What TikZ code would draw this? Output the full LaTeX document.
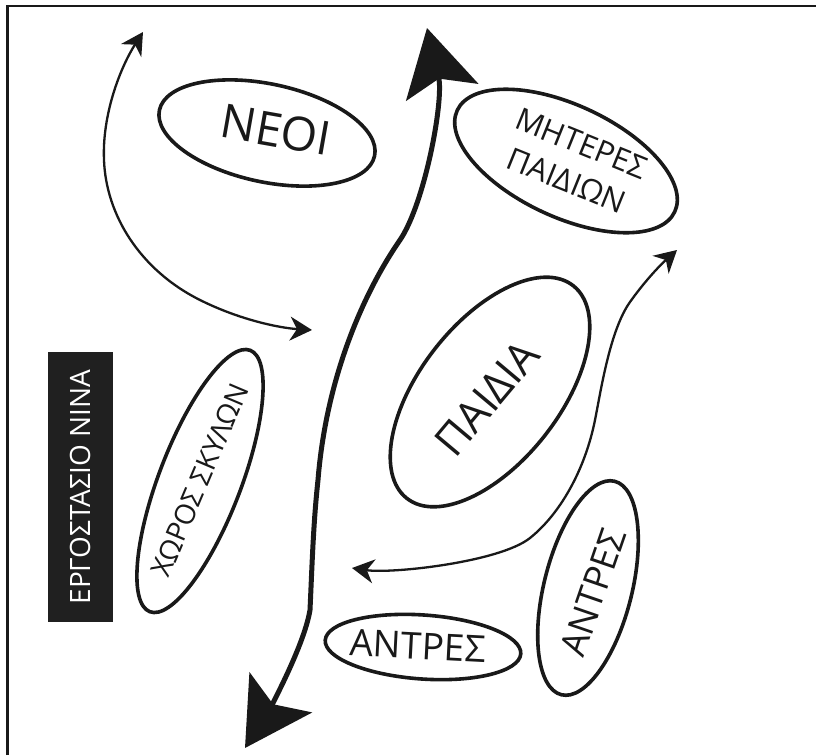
\documentclass[tikz,border=0pt]{standalone}
\usepackage{fontspec}
\setmainfont{Open Sans}
\usetikzlibrary{arrows.meta,shapes.geometric}
\definecolor{ink}{RGB}{25,25,25}
\definecolor{boxblack}{RGB}{32,32,32}
\begin{document}
\begin{tikzpicture}[x=1pt,y=-1pt,
  blob/.style={draw=ink, line width=3.6pt, ellipse, inner sep=0pt},
  lbl/.style={text=ink, inner sep=0pt, align=center},
  smallarrow/.style={draw=ink, line width=2.3pt,
    {Stealth[length=22pt,width=24pt,inset=7pt]}-{Stealth[length=22pt,width=24pt,inset=7pt]}},
  bigarrow/.style={draw=ink, line width=5pt,
    {Stealth[length=66pt,width=74pt,inset=14pt]}-{Stealth[length=66pt,width=74pt,inset=14pt]}},
]
\useasboundingbox (0,0) rectangle (816,755);
\fill[white] (0,0) rectangle (816,755);
% frame (top and left edges only)
\coordinate (fbl) at (7.5,755);
\coordinate (ftl) at (7.5,6);
\coordinate (ftr) at (816,6);
\draw[line width=2.8pt, ink] (fbl) -- (ftl) -- (ftr);

% title box
\node[fill=boxblack, text=white, rotate=90, minimum width=270pt, minimum height=65pt,
      inner sep=0pt, font=\fontsize{28}{28}\selectfont] (ergo) at (80.5,487) {ΕΡΓΟΣΤΑΣΙΟ ΝΙΝΑ};

% ellipses
\node[blob, minimum width=220pt, minimum height=98pt, rotate=-12] (neoiE) at (267,133) {};
\node[lbl, font=\fontsize{47}{47}\selectfont, rotate=-10] (neoi) at (276,130) {ΝΕΟΙ};

\node[blob, minimum width=240pt, minimum height=112pt, rotate=-25] (mitE) at (566,161) {};
\node[lbl, font=\fontsize{31}{40}\selectfont, rotate=-22] (mit) at (574,162) {ΜΗΤΕΡΕΣ\\ΠΑΙΔΙΩΝ};

\node[blob, minimum width=270pt, minimum height=140pt, rotate=52] (paiE) at (490,392) {};
\node[lbl, font=\fontsize{43}{43}\selectfont, rotate=50] (pai) at (487,398) {ΠΑΙΔΙΑ};

\node[blob, minimum width=280pt, minimum height=82pt, rotate=69] (xorE) at (200,481) {};
\node[lbl, font=\fontsize{28}{28}\selectfont, rotate=67] (xor) at (200,480) {ΧΩΡΟΣ ΣΚΥΛΩΝ};

\node[blob, minimum width=220pt, minimum height=88pt, rotate=76] (antvE) at (588,588) {};
\node[lbl, font=\fontsize{36}{36}\selectfont, rotate=71] (antv) at (593,592) {ΑΝΤΡΕΣ};

\node[blob, minimum width=196pt, minimum height=64pt, rotate=-4] (anthE) at (423,647) {};
\node[lbl, font=\fontsize{37}{37}\selectfont, rotate=-3] (anth) at (418,646) {ΑΝΤΡΕΣ};

% big two-headed arrow
\coordinate (bigbot) at (245,748);
\coordinate (bigtop) at (427,28);
\draw[bigarrow] (bigbot) .. controls (263,720) and (303.5,649.5) .. (310,610)
  .. controls (312,567) and (313.3,522.5) .. (318,480)
  .. controls (326,380) and (362,295) .. (400,240)
  .. controls (425,203) and (444,100) .. (bigtop);

% left thin arrow
\coordinate (nTop) at (143,32);
\coordinate (nEnd) at (312,330);
\draw[smallarrow] (nTop) .. controls (120,68) and (102,115) .. (104,160)
  .. controls (106,215) and (140,270) .. (200,300)
  .. controls (240,320) and (280,328) .. (nEnd);

% right thin arrow
\coordinate (aL) at (352,568);
\coordinate (aR) at (677,250);
\draw[smallarrow] (aL) .. controls (392,574) and (500,562) .. (530,538)
  .. controls (560,514) and (585,470) .. (595,420)
  .. controls (601,390) and (610,330) .. (630,302)
  .. controls (642,285) and (657,268) .. (aR);
\end{tikzpicture}
\end{document}
